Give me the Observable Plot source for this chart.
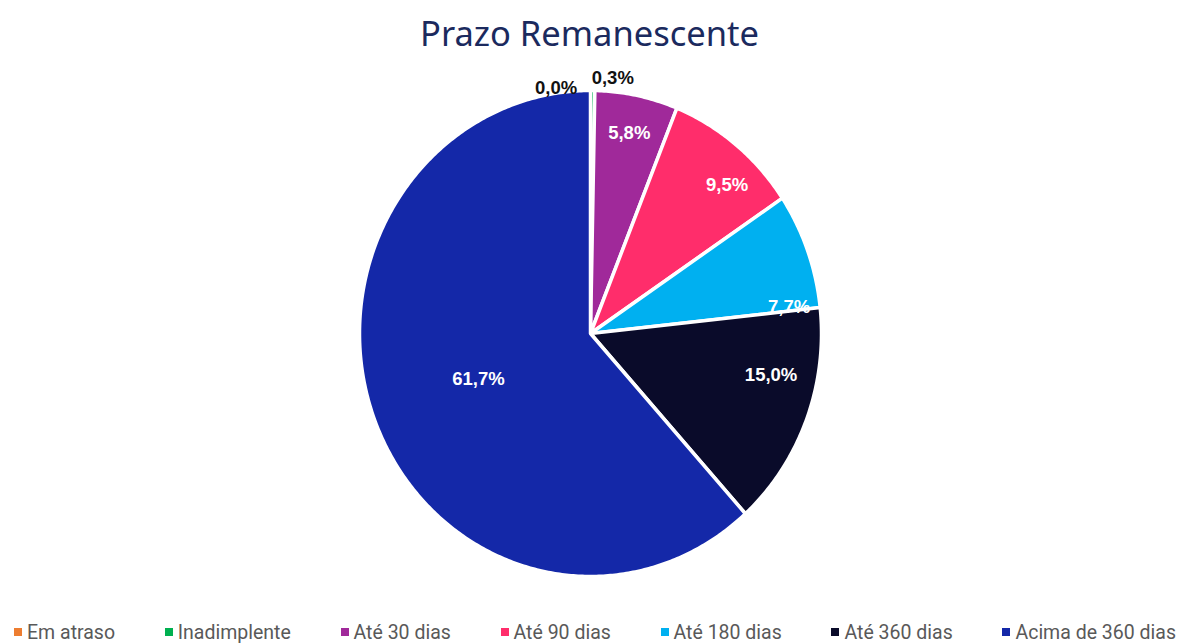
<!DOCTYPE html>
<html>
<head>
<meta charset="utf-8">
<script src="https://cdn.jsdelivr.net/npm/d3@7"></script>
<script src="https://cdn.jsdelivr.net/npm/@observablehq/plot@0.6"></script>
<style>
  html, body { margin: 0; padding: 0; background: #fff; }
  #wrap { width: 1179px; height: 644px; position: relative; overflow: hidden; }
  #title { height: 60px; line-height: 66px; text-align: center; font-family: "Noto Sans", sans-serif; font-size: 34.5px; color: #1b2a5e; }
  #chart svg { display: block; }
  #legend { height: 34px; display: flex; justify-content: space-between; align-items: center; padding: 0 3px 0 14px; font-family: "Roboto", sans-serif; font-size: 19.5px; color: #595959; position: relative; top: 5px; }
  .item { display: flex; align-items: center; white-space: nowrap; }
  .sw { width: 8px; height: 8px; margin-right: 5px; display: inline-block; }
</style>
</head>
<body>
<div id="wrap">
  <div id="title">Prazo Remanescente</div>
  <div id="chart"></div>
  <div id="legend"></div>
</div>
<script>
const categories = ["Em atraso", "Inadimplente", "Até 30 dias", "Até 90 dias", "Até 180 dias", "Até 360 dias", "Acima de 360 dias"];
const values = [0.0, 0.3, 5.8, 9.5, 7.7, 15.0, 61.7];
const labels = ["0,0%", "0,3%", "5,8%", "9,5%", "7,7%", "15,0%", "61,7%"];
const colors = ["#ed7d31", "#00b050", "#a0299a", "#ff2d6b", "#00b0f0", "#0a0b2a", "#1428a8"];

// label placement tweaks (radius fraction, angle shift in degrees), like Excel's best-fit
const labelPlace = [[1.02, -8.4], [1.054, 4.7], [0.84, 0], [0.85, 5], [0.867, 12.7], [0.8, -8.6], [0.52, 0]];

const total = d3.sum(values);
const slices = [];
const labelRows = [];
let cum = 0;
categories.forEach((c, i) => {
  const a0 = cum / total * 2 * Math.PI;
  cum += values[i];
  const a1 = cum / total * 2 * Math.PI;
  if (values[i] > 0) {
    slices.push({cat: c, x: 0, y: 0});
    const n = Math.max(2, Math.ceil((a1 - a0) / 0.01));
    for (let k = 0; k <= n; k++) {
      const a = a0 + (a1 - a0) * k / n;
      slices.push({cat: c, x: Math.sin(a), y: Math.cos(a)});
    }
  }
  const [r, dd] = labelPlace[i];
  const am = (a0 + a1) / 2 + dd * Math.PI / 180;
  labelRows.push({cat: c, label: labels[i], x: r * Math.sin(am), y: r * Math.cos(am), outside: r > 1});
});

const chart = Plot.plot({
  width: 1179,
  height: 550,
  margin: 0,
  x: {domain: [-1, 1], range: [359, 821], axis: null},
  y: {domain: [-1, 1], range: [516, 30], axis: null},
  color: {domain: categories, range: colors},
  marks: [
    Plot.line(slices, {x: "x", y: "y", z: "cat", fill: "cat", stroke: "white", strokeWidth: 3.5, strokeLinejoin: "round", curve: "linear-closed"}),
    Plot.text(labelRows.filter(d => !d.outside), {x: "x", y: "y", text: "label", fill: "white", fontSize: 18.5, fontWeight: "bold", fontFamily: "Liberation Sans, Arial, sans-serif"}),
    Plot.text(labelRows.filter(d => d.outside), {x: "x", y: "y", text: "label", fill: "#111", fontSize: 18.5, fontWeight: "bold", fontFamily: "Liberation Sans, Arial, sans-serif"})
  ]
});
document.getElementById("chart").appendChild(chart);

const legend = document.getElementById("legend");
categories.forEach((c, i) => {
  const it = document.createElement("div");
  it.className = "item";
  const sw = document.createElement("span");
  sw.className = "sw";
  sw.style.background = colors[i];
  it.appendChild(sw);
  it.appendChild(document.createTextNode(c));
  legend.appendChild(it);
});
</script>
</body>
</html>
